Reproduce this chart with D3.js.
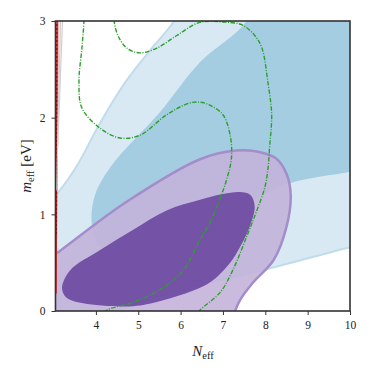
<!DOCTYPE html>
<html>
<head>
<meta charset="utf-8">
<script src="https://cdn.jsdelivr.net/npm/d3@7"></script>
<style>
  body { margin: 0; background: #fff; }
  svg { display: block; }
  .tick text { font-family: "Liberation Serif", "DejaVu Serif", serif; font-size: 11.5px; fill: #222; }
</style>
</head>
<body>
<div id="chart"></div>
<script>
// contour outlines, [N_eff, m_eff] pairs
const blue95 = [[2.9, 1.12], [3.1, 1.22], [3.55, 1.5], [4.08, 1.93], [4.7, 2.37], [5.25, 2.68], [5.85, 3.0], [6.3, 3.35],
  [10.6, 3.4], [10.6, 0.72], [10, 0.66], [8, 0.43], [6.46, 0.27], [5.0, 0.08], [4.3, -0.05], [3.9, -0.4], [2.9, -0.4]];
const blue68 = [[7.56, 3.0], [6.45, 2.57], [5.5, 2.05], [4.38, 1.51], [3.98, 1.2], [3.9, 0.91], [4.07, 0.68], [4.54, 0.55],
  [5.3, 0.6], [6.5, 0.85], [7.5, 1.1], [8.57, 1.32], [10, 1.44], [10.6, 1.5], [10.6, 3.4], [7.9, 3.4]];
const purple95 = [[2.9, 0.55], [3.08, 0.6], [4.69, 1.12], [6.46, 1.57], [7.3, 1.66], [7.8, 1.65], [8.25, 1.58], [8.5, 1.42],
  [8.6, 1.2], [8.5, 0.87], [8.2, 0.53], [7.7, 0.29], [7.4, 0.11], [7.2, -0.1], [7.0, -0.4], [2.9, -0.4]];
const purple68 = [[3.2, 0.24], [3.39, 0.42], [4.1, 0.63], [4.88, 0.84], [5.67, 1.04], [6.46, 1.15], [7.0, 1.21], [7.4, 1.23],
  [7.65, 1.2], [7.75, 1.08], [7.63, 0.87], [7.4, 0.66], [7.17, 0.5], [6.77, 0.32], [6.46, 0.24], [5.5, 0.1], [4.88, 0.05], [3.7, 0.08], [3.3, 0.14]];
const green95 = [[4.42, 3.1], [4.43, 3.0], [4.52, 2.85], [4.73, 2.72], [5.04, 2.67], [5.44, 2.72], [5.91, 2.85], [6.45, 2.985],
  [7.0, 2.99], [7.45, 2.96], [7.75, 2.85], [7.92, 2.72], [8.06, 2.37], [8.15, 2.03], [8.1, 1.69], [8.07, 1.5], [7.99, 1.28],
  [7.8, 1.04], [7.56, 0.77], [7.23, 0.42], [6.93, 0.19], [6.46, 0.01], [6.3, -0.08]];
const green68 = [[3.73, 3.1], [3.72, 3.0], [3.67, 2.72], [3.6, 2.37], [3.67, 2.1], [4.1, 1.89], [4.57, 1.79], [5.05, 1.82],
  [5.67, 2.03], [6.2, 2.15], [6.45, 2.16], [6.69, 2.13], [7.0, 2.03], [7.17, 1.82], [7.2, 1.58], [7.08, 1.35], [6.92, 1.15],
  [6.69, 0.91], [6.45, 0.73], [6.06, 0.42], [5.51, 0.22], [4.88, 0.09], [4.26, 0.01], [4.1, -0.05]];
const redBand = [[3.0, 0.18], [3.065, 0.18], [3.14, 3.1], [3.0, 3.1]];
const redLine = [[3.058, 0.18], [3.085, 3.1]];
const redDots = [[3.062, 0.8], [3.08, 3.1]];
const grayLine1 = [[3.07, 1.25], [3.17, 3.1]];
const grayLine2 = [[3.1, 1.7], [3.22, 3.1]];

const xTicks = [4, 5, 6, 7, 8, 9, 10];
const yTicks = [0, 1, 2, 3];

const W = 374, H = 374;
const margin = { top: 21, right: 24, bottom: 63, left: 55.5 };
const width = W - margin.left - margin.right,
      height = H - margin.top - margin.bottom;

const svg = d3.select("#chart").append("svg")
    .attr("width", W)
    .attr("height", H);

svg.append("defs").append("clipPath")
    .attr("id", "plotclip")
  .append("rect")
    .attr("width", width)
    .attr("height", height);

const g = svg.append("g")
    .attr("transform", `translate(${margin.left},${margin.top})`);

const x = d3.scaleLinear().domain([3.046, 10]).range([0, width]);
const y = d3.scaleLinear().domain([0, 3]).range([height, 0]);

const closed = d3.line().x(d => x(d[0])).y(d => y(d[1])).curve(d3.curveCatmullRomClosed.alpha(0.5));
const open = d3.line().x(d => x(d[0])).y(d => y(d[1])).curve(d3.curveCatmullRom.alpha(0.5));
const straight = d3.line().x(d => x(d[0])).y(d => y(d[1]));

const plot = g.append("g").attr("clip-path", "url(#plotclip)");

// blue contours
plot.append("path").attr("d", closed(blue95))
    .attr("fill", "#d8e9f3").attr("stroke", "#c0dcec").attr("stroke-width", 2);
plot.append("path").attr("d", closed(blue68))
    .attr("fill", "#a5cde2");

// purple contours
plot.append("path").attr("d", closed(purple95))
    .attr("fill", "#c3b3da").attr("fill-opacity", 0.9);
plot.append("path").attr("d", closed(purple68))
    .attr("fill", "#7250a4").attr("fill-opacity", 0.97);
plot.append("path").attr("d", closed(purple95))
    .attr("fill", "none").attr("stroke", "#a48dcb").attr("stroke-width", 2.5);

// green dash-dot contours
[green95, green68].forEach(c => {
  plot.append("path").attr("d", open(c))
      .attr("fill", "none")
      .attr("stroke", "#2ca02c")
      .attr("stroke-width", 1.4)
      .attr("stroke-dasharray", "4.5,1.5,1,1.5");
});

// narrow red band at the left edge
plot.append("path").attr("d", straight(redBand) + "Z")
    .attr("fill", "#f2a5a5").attr("fill-opacity", 0.8);
plot.append("path").attr("d", straight(redLine))
    .attr("stroke", "#e32222").attr("stroke-width", 1.6);
plot.append("path").attr("d", straight(redDots))
    .attr("stroke", "#8b0000").attr("stroke-width", 1.6).attr("stroke-dasharray", "1.5,2.5");
[grayLine1, grayLine2].forEach(l => {
  plot.append("path").attr("d", straight(l))
      .attr("stroke", "#d0d0d0").attr("stroke-width", 1.2);
});

// axes
const xAxis = g.append("g")
    .attr("transform", `translate(0,${height})`)
    .call(d3.axisBottom(x).tickValues(xTicks).tickSize(4).tickPadding(6).tickFormat(d3.format("d")));
const yAxis = g.append("g")
    .call(d3.axisLeft(y).tickValues(yTicks).tickSize(4).tickPadding(6).tickFormat(d3.format("d")));
[xAxis, yAxis].forEach(a => {
  a.select(".domain").remove();
  a.selectAll(".tick line").attr("stroke", "#333").attr("stroke-width", 1);
});

// frame
g.append("rect")
    .attr("width", width)
    .attr("height", height)
    .attr("fill", "none")
    .attr("stroke", "#333")
    .attr("stroke-width", 1.6);

// axis titles
const xt = svg.append("text")
    .attr("x", margin.left + x(6.53))
    .attr("y", 356)
    .attr("text-anchor", "middle")
    .style("font-family", "'Liberation Serif', 'DejaVu Serif', serif")
    .style("font-size", "15px")
    .attr("fill", "#222");
xt.append("tspan").attr("font-style", "italic").text("N");
xt.append("tspan").attr("font-size", "10.5px").attr("dy", 3).text("eff");

const yt = svg.append("text")
    .attr("transform", `translate(31,${margin.top + y(1.5)}) rotate(-90)`)
    .attr("text-anchor", "middle")
    .style("font-family", "'Liberation Serif', 'DejaVu Serif', serif")
    .style("font-size", "15px")
    .attr("fill", "#222");
yt.append("tspan").attr("font-style", "italic").text("m");
yt.append("tspan").attr("font-size", "10.5px").attr("dy", 3).text("eff");
yt.append("tspan").attr("dy", -3).text(" [eV]");
</script>
</body>
</html>
